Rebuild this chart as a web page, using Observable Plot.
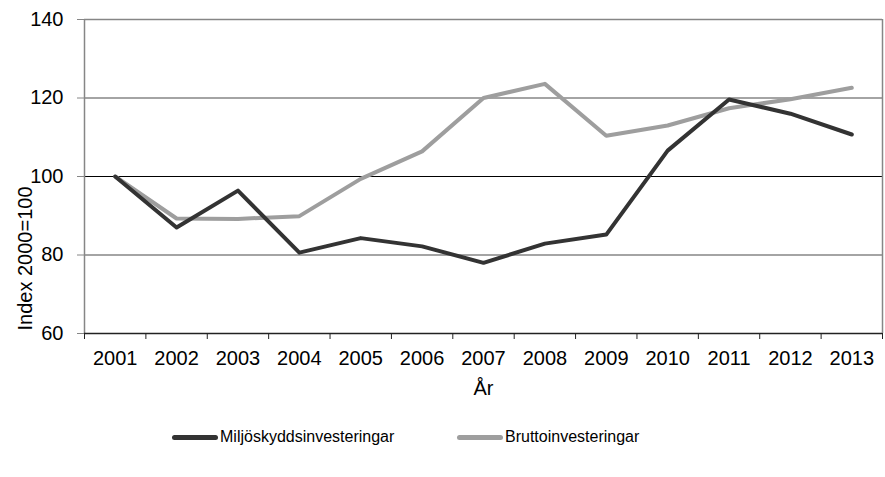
<!DOCTYPE html>
<html>
<head>
<meta charset="utf-8">
<script src="https://cdn.jsdelivr.net/npm/d3@7"></script>
<script src="https://cdn.jsdelivr.net/npm/@observablehq/plot@0.6"></script>
<style>
  html, body { margin: 0; padding: 0; background: #fff; }
  #wrap { position: relative; width: 885px; height: 477px; font-family: "Liberation Sans", Arial, sans-serif; }
  #chart svg text { font-size: 20px !important; fill: #000; }
  #legend { position: absolute; left: 0; top: 427px; width: 885px; height: 20px; font-size: 16px; color: #000; }
  .item { position: absolute; top: 0; display: flex; align-items: center; height: 20px; }
  .sw { width: 46px; height: 5px; border-radius: 3px; margin-right: 2px; }
</style>
</head>
<body>
<div id="wrap">
  <div id="chart"></div>
  <div id="legend"></div>
</div>
<script>
const years = [2001, 2002, 2003, 2004, 2005, 2006, 2007, 2008, 2009, 2010, 2011, 2012, 2013];
const miljo = [100, 87.0, 96.4, 80.6, 84.3, 82.2, 78.0, 82.9, 85.2, 106.6, 119.6, 116.0, 110.7];
const brutto = [100, 89.3, 89.2, 89.9, 99.4, 106.4, 120.0, 123.6, 110.4, 113.0, 117.4, 119.7, 122.6];
const seriesNames = ["Miljöskyddsinvesteringar", "Bruttoinvesteringar"];
const seriesColors = ["#333333", "#9e9e9e"];
const yTicks = [60, 80, 100, 120, 140];
const xTitle = "År";
const yTitle = "Index 2000=100";

const rows = [];
years.forEach((y, i) => {
  rows.push({year: y, value: miljo[i], series: seriesNames[0]});
  rows.push({year: y, value: brutto[i], series: seriesNames[1]});
});
const boundaries = d3.range(years.length + 1).map(i => years[0] - 0.5 + i);
const xDomain = [years[0] - 0.5, years[years.length - 1] + 0.5];

const chart = Plot.plot({
  width: 885,
  height: 420,
  marginLeft: 84,
  marginRight: 3,
  marginTop: 19,
  marginBottom: 87,
  style: {fontFamily: "Liberation Sans, Arial, sans-serif", fontSize: "20px", color: "#000", background: "#fff"},
  x: {domain: xDomain},
  y: {domain: [60, 140]},
  marks: [
    Plot.ruleY([80, 120, 140], {stroke: "#868686", strokeWidth: 1.5}),
    Plot.ruleY([100], {stroke: "#000", strokeWidth: 1}),
    Plot.ruleX([xDomain[0], xDomain[1]], {stroke: "#868686", strokeWidth: 1.5}),
    Plot.ruleY([60], {stroke: "#222", strokeWidth: 1.5}),
    Plot.line(rows.filter(d => d.series === seriesNames[1]), {x: "year", y: "value", stroke: seriesColors[1], strokeWidth: 4, strokeLinecap: "round", strokeLinejoin: "round"}),
    Plot.line(rows.filter(d => d.series === seriesNames[0]), {x: "year", y: "value", stroke: seriesColors[0], strokeWidth: 4, strokeLinecap: "round", strokeLinejoin: "round"}),
    Plot.axisY({ticks: yTicks, tickSize: 7, tickPadding: 14, stroke: "#868686", label: null}),
    Plot.axisX({ticks: boundaries, tickSize: 6, tickFormat: () => "", stroke: "#222", label: null}),
    Plot.axisX({ticks: years, tickSize: 0, tickPadding: 17, tickFormat: d => String(d), label: null}),
    Plot.text([yTitle], {frameAnchor: "left", dx: -59, dy: 82, rotate: -90, textAnchor: "middle", lineAnchor: "middle", fill: "#000"}),
    Plot.text([xTitle], {frameAnchor: "bottom", dy: 55, textAnchor: "middle", lineAnchor: "middle", fill: "#000"})
  ]
});
document.getElementById("chart").appendChild(chart);

const legend = document.getElementById("legend");
const lx = [172, 457];
seriesNames.forEach((n, i) => {
  const it = document.createElement("div");
  it.className = "item";
  it.style.left = lx[i] + "px";
  const sw = document.createElement("div");
  sw.className = "sw";
  sw.style.background = seriesColors[i];
  const t = document.createElement("span");
  t.textContent = n;
  it.appendChild(sw);
  it.appendChild(t);
  legend.appendChild(it);
});
</script>
</body>
</html>
